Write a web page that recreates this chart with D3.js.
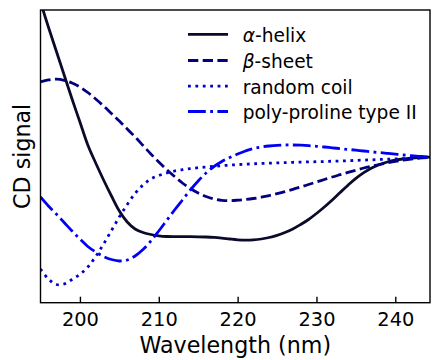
<!DOCTYPE html>
<html>
<head>
<meta charset="utf-8">
<script src="https://cdn.jsdelivr.net/npm/d3@7"></script>
<style>
  html, body { margin: 0; padding: 0; background: #fff; }
  svg { display: block; }
  text { font-family: "DejaVu Sans", sans-serif; fill: #000; }
</style>
</head>
<body>
<svg id="chart" width="432" height="360"></svg>
<script>
// Wavelength grid (nm)
const wavelengths = d3.range(195, 246);

// CD signal (arbitrary units) for each secondary-structure type, one value per nm
const alphaHelix = [154.4, 129.4, 105.4, 81.4, 57.4, 34.4, 11.4, -6.6, -23.6, -39.6,
  -54.6, -65.6, -72.6, -76.1, -78.1, -79.4, -80.1, -80.3, -80.3, -80.3,
  -80.4, -80.6, -81.0, -81.7, -82.6, -83.4, -83.8, -83.5, -82.6, -81.1,
  -78.9, -76.1, -72.6, -68.1, -63.1, -57.1, -50.6, -43.6, -36.1, -28.8,
  -22.0, -16.3, -11.6, -8.1, -5.6, -3.8, -2.6, -1.8, -1.2, -0.8, -0.6];

const betaSheet = [74.6, 76.5, 77.2, 76.1, 73.4, 69.4, 63.9, 57.4, 50.4, 42.9,
  35.4, 27.4, 19.4, 10.9, 2.4, -5.6, -13.1, -20.1, -26.6, -32.1,
  -36.6, -40.1, -42.6, -43.9, -44.2, -43.8, -43.1, -42.1, -40.8, -39.2,
  -37.3, -35.2, -33.0, -30.6, -28.1, -25.6, -23.1, -20.6, -18.3, -16.0,
  -13.8, -11.6, -9.8, -8.1, -6.5, -5.0, -3.7, -2.6, -1.7, -1.1, -0.7];

const randomCoil = [-112.6, -122.6, -128.1, -127.6, -123.1, -117.9, -110.6, -100.1, -87.6, -74.1,
  -60.6, -48.1, -37.1, -28.6, -22.6, -19.1, -16.6, -14.6, -13.3, -12.2,
  -11.3, -10.6, -9.9, -9.3, -8.7, -8.2, -7.8, -7.4, -7.1, -6.8,
  -6.5, -6.2, -5.9, -5.7, -5.5, -5.3, -5.1, -4.8, -4.6, -4.3,
  -4.0, -3.7, -3.4, -3.1, -2.8, -2.5, -2.2, -1.8, -1.5, -1.1, -0.8];

const polyProline = [-40.6, -49.6, -57.6, -66.1, -74.6, -82.6, -90.1, -95.6, -100.1, -103.1,
  -104.6, -103.6, -99.6, -93.1, -84.6, -74.6, -64.1, -53.6, -43.6, -33.6,
  -24.6, -16.6, -10.1, -5.1, -1.1, 2.4, 5.4, 7.9, 9.4, 10.4,
  11.1, 11.4, 11.4, 11.2, 10.8, 10.1, 9.4, 8.6, 7.8, 7.0,
  6.2, 5.4, 4.6, 3.8, 3.0, 2.2, 1.4, 0.7, 0.1, -0.5, -1.0];

const xTicks = [200, 210, 220, 230, 240];

const seriesNames = ["α-helix", "β-sheet", "random coil", "poly-proline type II"];
const seriesValues = [alphaHelix, betaSheet, randomCoil, polyProline];
const seriesColors = ["#0a0a2a", "#000080", "#0000cc", "#0000f5"];
// dash patterns (px) for solid, dashed, dotted, dash-dot lines
const seriesDashes = [null, "10.3,4.4", "2.8,4.6", "17.8,4.4,2.8,4.4"];

const svg = d3.select("#chart");
const plot = { left: 40.5, right: 430, top: 10, bottom: 302.7 };

const x = d3.scaleLinear().domain([195, 244.4]).range([plot.left, plot.right]);
const y = d3.scaleLinear().domain([-146.3, 146.4]).range([plot.bottom, plot.top]);

svg.append("defs").append("clipPath").attr("id", "plot-clip")
  .append("rect")
  .attr("x", plot.left).attr("y", plot.top)
  .attr("width", plot.right - plot.left).attr("height", plot.bottom - plot.top);

const line = d3.line()
  .x((d, i) => x(wavelengths[i]))
  .y(d => y(d))
  .curve(d3.curveCatmullRom.alpha(0.5));

const curves = svg.append("g").attr("clip-path", "url(#plot-clip)");
seriesValues.forEach((vals, k) => {
  curves.append("path")
    .attr("d", line(vals))
    .attr("fill", "none")
    .attr("stroke", seriesColors[k])
    .attr("stroke-width", 2.78)
    .attr("stroke-dasharray", seriesDashes[k])
    .attr("stroke-linecap", "butt")
    .attr("stroke-linejoin", "round");
});

// x axis with inward ticks
const xAxis = d3.axisBottom(x).tickValues(xTicks).tickSize(-6).tickFormat(d3.format("d"));
const gx = svg.append("g").attr("transform", `translate(0,${plot.bottom})`).call(xAxis);
gx.select(".domain").remove();
gx.selectAll(".tick line").attr("stroke", "#000").attr("stroke-width", 1.4);
gx.selectAll(".tick text")
  .attr("y", 23.8).attr("dy", null)
  .style("font-family", "DejaVu Sans")
  .style("font-size", "19.4px")
  .attr("fill", "#000");

// frame
svg.append("rect")
  .attr("x", plot.left).attr("y", plot.top)
  .attr("width", plot.right - plot.left).attr("height", plot.bottom - plot.top)
  .attr("fill", "none").attr("stroke", "#000").attr("stroke-width", 1.4);

// axis titles
svg.append("text")
  .attr("x", (plot.left + plot.right) / 2).attr("y", 353)
  .attr("text-anchor", "middle")
  .style("font-size", "22.2px")
  .text("Wavelength (nm)");

svg.append("text")
  .attr("transform", `translate(29.5,${(plot.top + plot.bottom) / 2}) rotate(-90)`)
  .attr("text-anchor", "middle")
  .style("font-size", "22.2px")
  .text("CD signal");

// legend
const legend = svg.append("g");
const rowY = [34.3, 60.5, 86.2, 111.5];
seriesNames.forEach((name, k) => {
  const yy = rowY[k];
  legend.append("line")
    .attr("x1", 188).attr("x2", 228).attr("y1", yy).attr("y2", yy)
    .attr("stroke", seriesColors[k]).attr("stroke-width", 2.78)
    .attr("stroke-dasharray", seriesDashes[k]);
  const t = legend.append("text")
    .attr("x", 242.7).attr("y", yy + 7.3)
    .style("font-size", "18.6px");
  if (name[0] === "α" || name[0] === "β") {
    t.append("tspan").style("font-style", "italic").text(name[0]);
    t.append("tspan").text(name.slice(1));
  } else {
    t.text(name);
  }
});
</script>
</body>
</html>
